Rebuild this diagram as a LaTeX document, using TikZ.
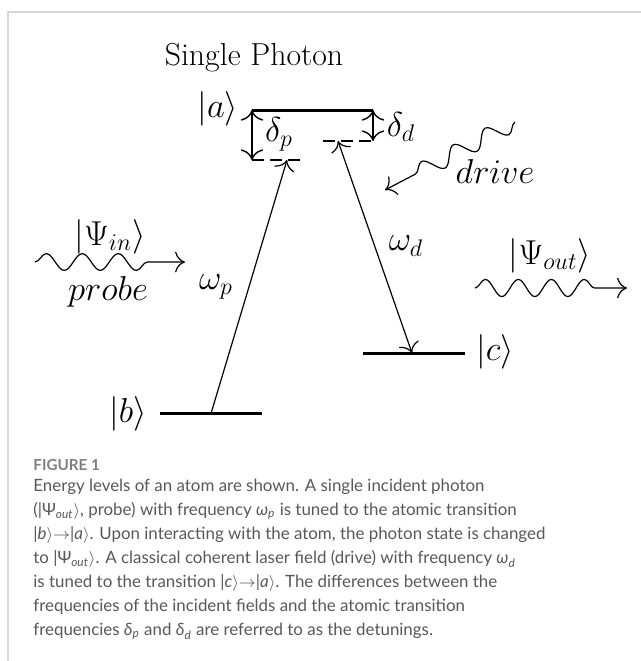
\documentclass[tikz,border=0pt]{standalone}
\usepackage{fontspec}
\usetikzlibrary{decorations.pathmorphing, arrows.meta}

\newfontfamily\capfont{Lato}
\definecolor{capgray}{RGB}{88,88,88}
\definecolor{figgray}{RGB}{128,128,128}
\definecolor{framegray}{RGB}{214,214,214}
\newcommand{\capket}[1]{|#1$\rangle$}

\begin{document}
\begin{tikzpicture}[x=25pt, y=25pt, >={To[scale=1.7]},
        level/.style={line width=1.5pt},
        lab/.style={font=\LARGE},
        wave/.style={->, line width=0.6pt, decorate,
            decoration={snake, segment length=18pt, amplitude=4.2pt, post length=12pt}}]
        \useasboundingbox (0,0) rectangle (12.82,-13.22);
        \draw[framegray, line width=0.7pt] (12.82,-0.24) -- (0.16,-0.24) -- (0.16,-13.22);

        \node (title) at (5.08,-1.16) [font=\fontsize{15.9}{19}\selectfont] {Single Photon};

        % --- LEVELS ---
        \coordinate (a1) at (5.04,-2.2);
        \coordinate (a2) at (7.46,-2.2);
        \coordinate (b1) at (3.2,-8.27);
        \coordinate (b2) at (5.24,-8.27);
        \coordinate (c1) at (7.26,-7.06);
        \coordinate (c2) at (9.3,-7.06);
        \draw[level] (a1) -- (a2);
        \draw[level] (b1) -- (b2);
        \draw[level] (c1) -- (c2);

        \node (ka) at (4.36,-2.18) [lab] {$|a\rangle$};
        \node (kb) at (2.56,-8.28) [lab] {$|b\rangle$};
        \node (kc) at (9.9,-7.04) [lab] {$|c\rangle$};

        % --- DETUNINGS ---
        \coordinate (dp1) at (5.04,-3.2);
        \coordinate (dp2) at (6.06,-3.2);
        \coordinate (dd1) at (6.46,-2.82);
        \coordinate (dd2) at (7.46,-2.82);
        \draw[<->, line width=0.7pt] (a1) -- (dp1);
        \draw[<->, line width=0.7pt] (a2) -- (dd2);
        \draw[dash pattern=on 6pt off 3pt, line width=0.7pt] (dp1) -- (dp2);
        \draw[dash pattern=on 6pt off 3pt, line width=0.7pt] (dd1) -- (dd2);
        \node (dpl) at (5.58,-2.68) [lab] {$\delta_p$};
        \node (ddl) at (8.02,-2.54) [lab] {$\delta_d$};

        % --- TRANSITIONS ---
        \coordinate (wp1) at (4.22,-8.27);
        \coordinate (wp2) at (5.74,-3.2);
        \coordinate (wd1) at (8.24,-7.06);
        \coordinate (wd2) at (6.76,-2.82);
        \draw[->, line width=0.6pt] (wp1) -- (wp2);
        \draw[<->, line width=0.6pt] (wd1) -- (wd2);
        \node (wpl) at (4.32,-5.74) [lab] {$\omega_p$};
        \node (wdl) at (8.12,-4.92) [lab] {$\omega_d$};

        % --- FIELDS ---
        \coordinate (in1) at (0.7,-5.24);
        \coordinate (in2) at (3.7,-5.24);
        \draw[wave] (in1) -- (in2);
        \node (psiin) at (2.2,-4.74) [lab] {$|\Psi_{in}\rangle$};
        \node (probe) at (2.16,-5.84) [lab] {$probe$};

        \coordinate (out1) at (9.5,-5.76);
        \coordinate (out2) at (12.54,-5.76);
        \draw[wave, decoration={segment length=16.5pt, amplitude=4.3pt, post length=15pt}] (out1) -- (out2);
        \node (psiout) at (11.0,-5.12) [lab] {$|\Psi_{out}\rangle$};

        \coordinate (dr1) at (10.3,-2.44);
        \coordinate (dr2) at (7.7,-3.8);
        \draw[wave, decoration={post length=11pt}] (dr1) -- (dr2);
        \node (drive) at (9.9,-3.43) [lab] {$drive$};

        % --- CAPTION ---
        \node (fig) at (0.66,-9.4) [anchor=base west, inner sep=0, text=figgray,
            font=\capfont\bfseries\fontsize{7.6}{9}\selectfont] {FIGURE 1};
        \node (cap) at (0.66,-9.58) [anchor=north west, inner sep=0, align=left, text=capgray,
            font=\capfont\fontsize{8.45}{12}\selectfont] {%
            Energy levels of an atom are shown. A single incident photon\\
            (\capket{Ψ\textsubscript{\itshape out}}, probe) with frequency \textit{ω}\textsubscript{\itshape p} is tuned to the atomic transition\\
            \capket{\textit{b}}$\rightarrow$\capket{\textit{a}}. Upon interacting with the atom, the photon state is changed\\
            to \capket{Ψ\textsubscript{\itshape out}}. A classical coherent laser field (drive) with frequency \textit{ω}\textsubscript{\itshape d}\\
            is tuned to the transition \capket{\textit{c}}$\rightarrow$\capket{\textit{a}}. The differences between the\\
            frequencies of the incident fields and the atomic transition\\
            frequencies \textit{δ}\textsubscript{\itshape p} and \textit{δ}\textsubscript{\itshape d} are referred to as the detunings.};
    \end{tikzpicture}
\end{document}
